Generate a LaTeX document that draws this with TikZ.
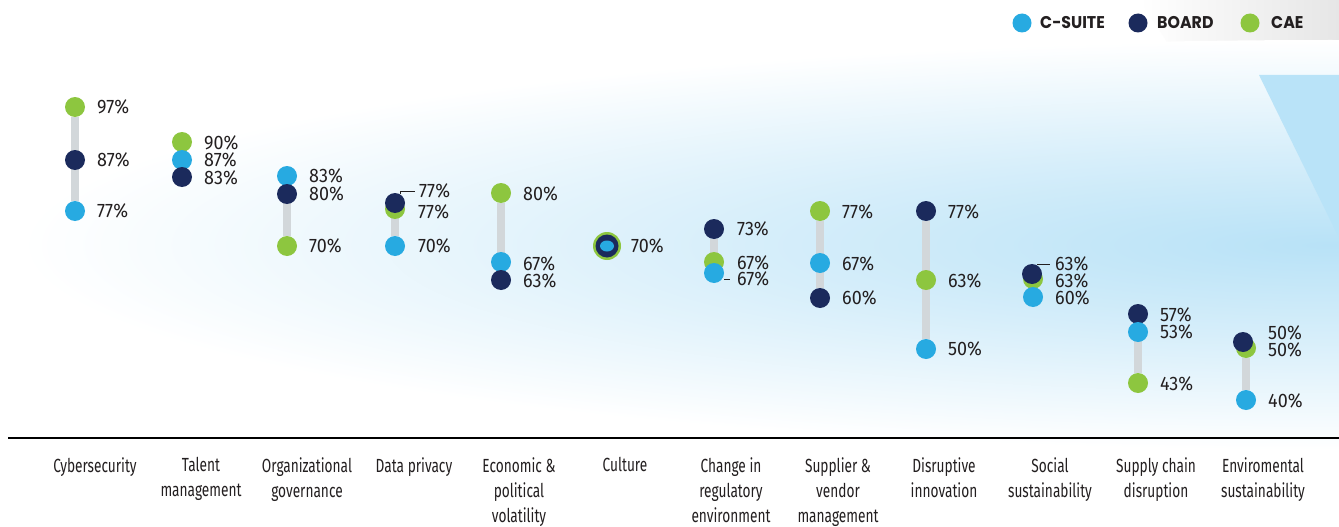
\documentclass[tikz,border=0pt]{standalone}
\usepackage{fontspec}
\usetikzlibrary{backgrounds,shapes.geometric}

\newfontfamily\valfont{Fira Sans}[FakeStretch=0.92]
\newfontfamily\catfont{Fira Sans}[FakeStretch=0.72]
\newfontfamily\legfont{Poppins}[FakeStretch=0.93]

\definecolor{csuite}{HTML}{27AAE1}
\definecolor{board}{HTML}{1B2A5C}
\definecolor{cae}{HTML}{8DC63F}
\definecolor{barc}{HTML}{D2D7DA}
\definecolor{ink}{HTML}{231F20}
\definecolor{glowA}{HTML}{B8E2F7}
\definecolor{glowB}{HTML}{D6EEFA}
\definecolor{wedge}{HTML}{B9E3F8}
\definecolor{shard}{HTML}{E6E6E6}
\pgfdeclareradialshading{glow}{\pgfpoint{0bp}{0bp}}{color(0bp)=(glowA); color(11bp)=(glowB); color(25bp)=(white); color(50bp)=(white)}

\begin{document}
\begin{tikzpicture}[x=1pt, y=-1pt,
    score/.style={circle, fill=#1, minimum size=20pt, inner sep=0pt},
    value/.style={anchor=west, inner sep=0pt, text=ink, font=\valfont\fontsize{19.5}{20}\selectfont},
    cat/.style={anchor=north, align=center, inner sep=0pt, text=ink, font=\catfont\fontsize{19}{25}\selectfont},
    key/.style={anchor=west, inner sep=0pt, text=ink, font=\legfont\bfseries\fontsize{17}{17}\selectfont},
    link/.style={draw=barc, line width=8pt},
    lead/.style={draw=ink, line width=0.8pt}]
  \useasboundingbox (0,0) rectangle (1339,527);

  \begin{scope}[on background layer]
    \fill[white] (0,0) rectangle (1339,527);
    \shade[left color=white, right color=shard] (1140,0) -- (1339,0) -- (1339,75) -- (1259,75) -- (1222,150) -- (1185,70) -- cycle;
    \shade[shading=glow] (1330,245) ellipse (1310pt and 205pt);
    \fill[wedge] (1259,75) -- (1339,75) -- (1339,238) -- cycle;
  \end{scope}

  % legend
  \node[score=csuite, minimum size=19pt] (K_cs) at (1022,23) {};
  \node[key] (K_cs_t) at (1040,23) {C-SUITE};
  \node[score=board, minimum size=19pt] (K_brd) at (1138,23) {};
  \node[key] (K_brd_t) at (1157,23) {BOARD};
  \node[score=cae, minimum size=19pt] (K_cae) at (1250,23) {};
  \node[key] (K_cae_t) at (1271,23) {CAE};

  % cybersecurity
  \node[score=cae] (CY_cae) at (75,107) {};
  \node[score=board] (CY_brd) at (75,160) {};
  \node[score=csuite] (CY_cs) at (75,211) {};
  \node[value] (CY_cae_v) at (97,107) {97\%};
  \node[value] (CY_brd_v) at (97,160) {87\%};
  \node[value] (CY_cs_v) at (97,211) {77\%};

  % talent management
  \node[score=cae] (TM_cae) at (182,142) {};
  \node[score=csuite] (TM_cs) at (182,160) {};
  \node[score=board] (TM_brd) at (182,177) {};
  \node[value] (TM_cae_v) at (204,143) {90\%};
  \node[value] (TM_cs_v) at (204,160) {87\%};
  \node[value] (TM_brd_v) at (204,178) {83\%};

  % organizational governance
  \node[score=csuite] (OG_cs) at (287,176) {};
  \node[score=board] (OG_brd) at (287,194) {};
  \node[score=cae] (OG_cae) at (287,246) {};
  \node[value] (OG_cs_v) at (309,176) {83\%};
  \node[value] (OG_brd_v) at (309,194) {80\%};
  \node[value] (OG_cae_v) at (309,246) {70\%};

  % data privacy
  \node[score=cae] (DP_cae) at (395,209) {};
  \node[score=board] (DP_brd) at (395,203) {};
  \node[score=csuite] (DP_cs) at (395,246) {};
  \node[value] (DP_brd_v) at (419,191) {77\%};
  \node[value] (DP_cae_v) at (418,212) {77\%};
  \node[value] (DP_cs_v) at (418,246) {70\%};

  % economic and political volatility
  \node[score=cae] (EC_cae) at (501,193) {};
  \node[score=csuite] (EC_cs) at (501,262) {};
  \node[score=board] (EC_brd) at (501,280) {};
  \node[value] (EC_cae_v) at (523,194) {80\%};
  \node[value] (EC_cs_v) at (523,264) {67\%};
  \node[value] (EC_brd_v) at (523,281) {63\%};

  % culture
  \node[score=cae, minimum size=28pt] (CU_cae) at (607,246) {};
  \node[score=board, minimum size=23pt] (CU_brd) at (607,246) {};
  \node[ellipse, fill=csuite, minimum width=14pt, minimum height=11pt, inner sep=0pt] (CU_cs) at (607,246) {};
  \node[value] (CU_v) at (631,246) {70\%};

  % change in regulatory environment
  \node[score=board] (CH_brd) at (714,229) {};
  \node[score=cae] (CH_cae) at (714,262) {};
  \node[score=csuite] (CH_cs) at (714,273) {};
  \node[value] (CH_brd_v) at (737,229) {73\%};
  \node[value] (CH_cae_v) at (737,263) {67\%};
  \node[value] (CH_cs_v) at (737,279) {67\%};

  % supplier and vendor management
  \node[score=cae] (SU_cae) at (820,211) {};
  \node[score=csuite] (SU_cs) at (820,263) {};
  \node[score=board] (SU_brd) at (820,298) {};
  \node[value] (SU_cae_v) at (842,212) {77\%};
  \node[value] (SU_cs_v) at (842,264) {67\%};
  \node[value] (SU_brd_v) at (842,298) {60\%};

  % disruptive innovation
  \node[score=board] (DI_brd) at (926,211) {};
  \node[score=cae] (DI_cae) at (926,280) {};
  \node[score=csuite] (DI_cs) at (926,349) {};
  \node[value] (DI_brd_v) at (948,212) {77\%};
  \node[value] (DI_cae_v) at (948,281) {63\%};
  \node[value] (DI_cs_v) at (948,349) {50\%};

  % social sustainability
  \node[score=cae] (SO_cae) at (1033,279) {};
  \node[score=board] (SO_brd) at (1032,274) {};
  \node[score=csuite] (SO_cs) at (1033,297) {};
  \node[value] (SO_brd_v) at (1055,264) {63\%};
  \node[value] (SO_cae_v) at (1055,281) {63\%};
  \node[value] (SO_cs_v) at (1055,298) {60\%};

  % supply chain disruption
  \node[score=board] (SC_brd) at (1138,314) {};
  \node[score=csuite] (SC_cs) at (1138,332) {};
  \node[score=cae] (SC_cae) at (1138,383) {};
  \node[value] (SC_brd_v) at (1160,315) {57\%};
  \node[value] (SC_cs_v) at (1160,332) {53\%};
  \node[value] (SC_cae_v) at (1160,384) {43\%};

  % enviromental sustainability
  \node[score=cae] (EN_cae) at (1246,348) {};
  \node[score=board] (EN_brd) at (1243,342) {};
  \node[score=csuite] (EN_cs) at (1246,400) {};
  \node[value] (EN_brd_v) at (1268,333) {50\%};
  \node[value] (EN_cae_v) at (1268,350) {50\%};
  \node[value] (EN_cs_v) at (1268,401) {40\%};

  \begin{scope}[on background layer]
    \draw[link] (CY_cae) -- (CY_cs);
    \draw[link] (TM_cae) -- (TM_brd);
    \draw[link] (OG_cs) -- (OG_cae);
    \draw[link] (DP_brd) -- (DP_cs);
    \draw[link] (EC_cae) -- (EC_brd);
    \draw[link] (CH_brd) -- (CH_cs);
    \draw[link] (SU_cae) -- (SU_brd);
    \draw[link] (DI_brd) -- (DI_cs);
    \draw[link] (SO_brd) -- (SO_cs);
    \draw[link] (SC_brd) -- (SC_cae);
    \draw[link] (EN_cae) -- (EN_cs);
  \end{scope}

  \draw[lead, shorten >=4pt] (DP_brd.60) |- (DP_brd_v.west);
  \draw[lead, shorten >=7pt] (CH_cs.east |- CH_cs_v) -- (CH_cs_v.west);
  \draw[lead, shorten >=5pt] (SO_brd.60) |- (SO_brd_v.west);

  % axis and categories
  \draw[line width=2pt] (8,438) -- (1339,438);
  \node[cat] (CY) at (95,457) {Cybersecurity};
  \node[cat] (TM) at (201,457) {Talent\\management};
  \node[cat] (OG) at (307,457) {Organizational\\governance};
  \node[cat] (DP) at (414,457) {Data privacy};
  \node[cat] (EC) at (519,457) {Economic \&\\political\\volatility};
  \node[cat] (CU) at (625,457) {Culture};
  \node[cat] (CH) at (731,457) {Change in\\regulatory\\environment};
  \node[cat] (SU) at (838,457) {Supplier \&\\vendor\\management};
  \node[cat] (DI) at (944,457) {Disruptive\\innovation};
  \node[cat] (SO) at (1050,457) {Social\\sustainability};
  \node[cat] (SC) at (1156,457) {Supply chain\\disruption};
  \node[cat] (EN) at (1263,457) {Enviromental\\sustainability};
\end{tikzpicture}
\end{document}
